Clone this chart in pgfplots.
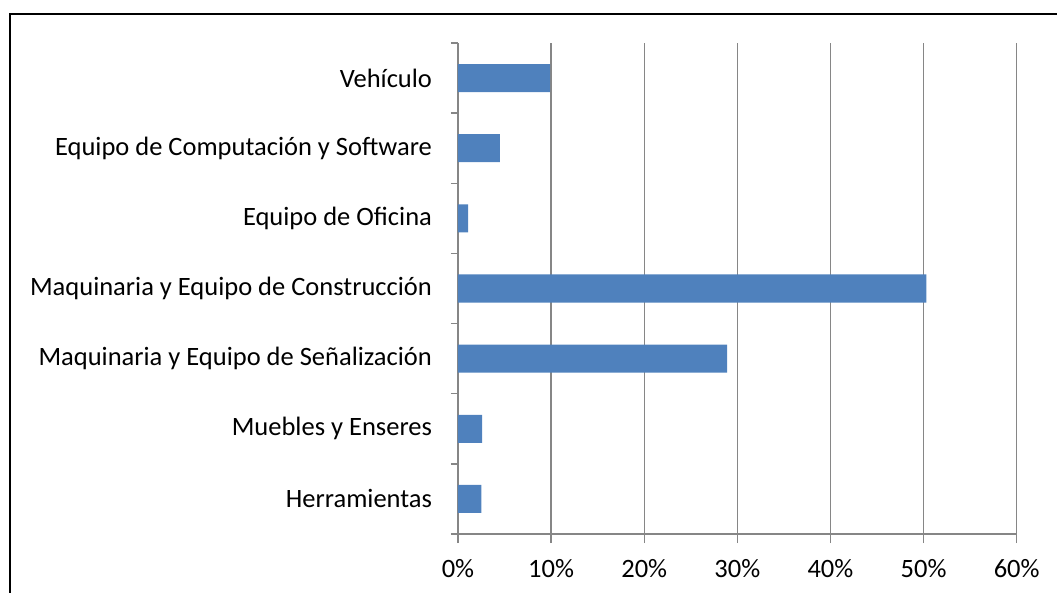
\documentclass[border=0pt]{standalone}
\usepackage{pgfplots}
\pgfplotsset{compat=1.18}
\usepackage{fontspec}
\setmainfont{Carlito}
\definecolor{barblue}{HTML}{4F81BD}
\definecolor{axgray}{HTML}{868686}
\begin{document}
\fontsize{26.5}{30}\selectfont
\begin{tikzpicture}
\begin{axis}[
  anchor=south west,
  scale only axis, width=558.7pt, height=491pt,
  xmin=0, xmax=60, ymin=-0.5, ymax=6.5,
  axis x line*=bottom, axis y line*=left,
  axis line style={draw=axgray, line width=1.3pt},
  xtick={0,10,20,30,40,50,60},
  xticklabels={0\%,10\%,20\%,30\%,40\%,50\%,60\%},
  xmajorgrids, grid style={draw=axgray, line width=1.3pt},
  ytick={0,1,2,3,4,5,6},
  yticklabels={Herramientas,Muebles y Enseres,Maquinaria y Equipo de Señalización,Maquinaria y Equipo de Construcción,Equipo de Oficina,Equipo de Computación y Software,Vehículo},
  minor ytick={-0.5,0.5,1.5,2.5,3.5,4.5,5.5,6.5},
  major y tick style={draw=none},
  minor y tick style={draw=axgray, line width=1.3pt},
  minor tick length=7pt,
  major x tick style={draw=axgray, line width=1.3pt},
  major tick length=9pt,
  tick align=outside,
  tick label style={font=\fontsize{26.5}{30}\selectfont, text=black},
  yticklabel style={anchor=east, xshift=-8pt},
  xticklabel style={anchor=north, yshift=-7pt},
  /pgf/number format/assume math mode=true,
  clip=false,
]
\addplot[xbar, bar width=0.4, fill=barblue, draw=none] coordinates {
  (2.5,0) (2.6,1) (28.9,2) (50.3,3) (1.1,4) (4.5,5) (9.9,6)
};
\coordinate (O) at (axis cs:0,-0.5);
\end{axis}
\pgfresetboundingbox
\path[use as bounding box] ([shift={(-458pt,-58pt)}]O) rectangle ([shift={(599pt,534pt)}]O);
\draw[black,line width=1.5pt] ([shift={(-448pt,-60pt)}]O) -- ([shift={(-448pt,520pt)}]O) -- ([shift={(610pt,520pt)}]O);
\end{tikzpicture}
\end{document}
